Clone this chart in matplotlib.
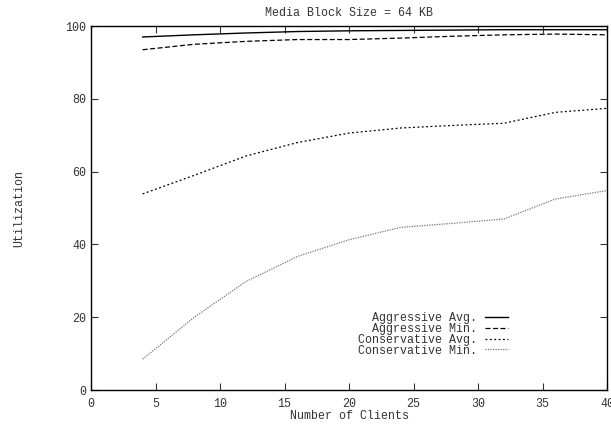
import matplotlib
matplotlib.use("Agg")
import matplotlib.pyplot as plt

plt.rcParams['font.family'] = ['Liberation Mono', 'DejaVu Sans Mono']
plt.rcParams['font.size'] = 8.4

clients = [4, 8, 12, 16, 20, 24, 28, 32, 36, 40]
aggr_avg = [97.0, 97.6, 98.1, 98.5, 98.7, 98.8, 98.9, 99.0, 99.0, 99.0]
aggr_min = [93.5, 95.0, 95.8, 96.3, 96.3, 96.7, 97.2, 97.6, 97.8, 97.6]
cons_avg = [53.9, 59.0, 64.3, 68.0, 70.6, 72.0, 72.7, 73.3, 76.3, 77.4]
cons_min = [8.5, 20.0, 29.8, 36.7, 41.3, 44.7, 45.8, 47.0, 52.5, 54.8]

fig = plt.figure(figsize=(6.11, 4.24), dpi=100)
ax = fig.add_axes([0.149, 0.080, 0.8445, 0.8585])

ax.plot(clients, aggr_avg, color='black', lw=1.0, label='Aggressive Avg.')
ax.plot(clients, aggr_min, color='black', lw=0.9, ls=(0, (4, 2)), label='Aggressive Min.')
ax.plot(clients, cons_avg, color='black', lw=0.9, ls=(0, (1.5, 2)), label='Conservative Avg.')
ax.plot(clients, cons_min, color='#777777', lw=0.9, ls=(0, (1, 1)), label='Conservative Min.')

ax.set_xlim(0, 40)
ax.set_ylim(0, 100)
ax.set_xticks(range(0, 41, 5))
ax.set_yticks(range(0, 101, 20))
ax.tick_params(direction='in', top=True, right=True, length=5, width=0.8, colors='#333333', labelcolor='#333333')
ax.tick_params(axis='x', pad=6)
for s in ax.spines.values():
    s.set_linewidth(1.0)

ax.set_title('Media Block Size = 64 KB', fontsize=8.4, color='#333333', pad=7)
ax.set_xlabel('Number of Clients', color='#333333', labelpad=-0.5)
ax.set_ylabel('Utilization', color='#333333', labelpad=29)

leg = ax.legend(loc='lower right', bbox_to_anchor=(0.819, 0.076), frameon=False, markerfirst=False,
                handlelength=1.95, handletextpad=0.65, labelspacing=-0.1, borderpad=0)
for t in leg.get_texts():
    t.set_ha('right')
    t.set_color('#333333')

fig.savefig('out.png', dpi=100)
